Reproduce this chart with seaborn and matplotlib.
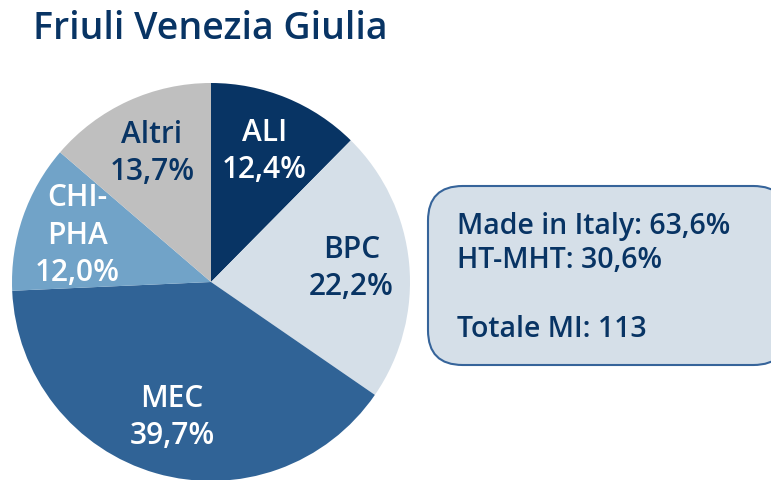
import numpy as np
import matplotlib
matplotlib.use("Agg")
import matplotlib.pyplot as plt
import seaborn as sns
from matplotlib.patches import FancyBboxPatch

# data
sectors = ["ALI", "BPC", "MEC", "CHI-\nPHA", "Altri"]
shares = [12.4, 22.2, 39.7, 12.0, 13.7]
share_labels = ["12,4%", "22,2%", "39,7%", "12,0%", "13,7%"]
colors = ["#083464", "#d5dfe8", "#306396", "#71a3c8", "#bfbfbf"]
label_colors = ["white", "#083464", "white", "white", "#083464"]
summary_lines = ["Made in Italy: 63,6%", "HT-MHT: 30,6%", "", "Totale MI: 113"]

sns.set_theme(style="white")
plt.rcParams["font.family"] = ["Open Sans", "DejaVu Sans"]

NAVY = "#083464"

fig = plt.figure(figsize=(7.71, 4.8), dpi=100)

# pie axes placed so the pie sits at the left, bottom slightly clipped
ax = fig.add_axes([12 / 771, -1 / 480, 398 / 771, 398 / 480])
wedges, texts = ax.pie(
    shares,
    labels=[f"{s}\n{p}" for s, p in zip(sectors, share_labels)],
    colors=colors,
    startangle=90,
    counterclock=False,
    labeldistance=0.71,
    radius=1.0,
    wedgeprops=dict(linewidth=0),
    textprops=dict(fontsize=21.5, ha="center", va="center", linespacing=1.32,
                   fontweight="semibold"),
)
for t, c in zip(texts, label_colors):
    t.set_color(c)
    t.set_horizontalalignment("center")
ax.set_xlim(-1, 1)
ax.set_ylim(-1, 1)
ax.set_aspect("equal")
ax.axis("off")

# title
fig.text(33 / 771, 1 - 29 / 480, "Friuli Venezia Giulia", fontsize=27,
         color=NAVY, ha="left", va="center", fontweight="semibold")

# summary box
box = FancyBboxPatch((428 / 771, 1 - 365 / 480), 360 / 771, 179 / 480,
                     boxstyle="round,pad=0,rounding_size=0.045",
                     transform=fig.transFigure, facecolor="#d5dfe8",
                     edgecolor="#36649a", linewidth=1.5, mutation_aspect=771 / 480)
fig.patches.append(box)
fig.text(457 / 771, 1 - 278 / 480, "\n".join(summary_lines), fontsize=20.5,
         color=NAVY, ha="left", va="center", linespacing=1.24,
         fontweight="semibold")

fig.savefig("out.png", dpi=100)
plt.close(fig)
